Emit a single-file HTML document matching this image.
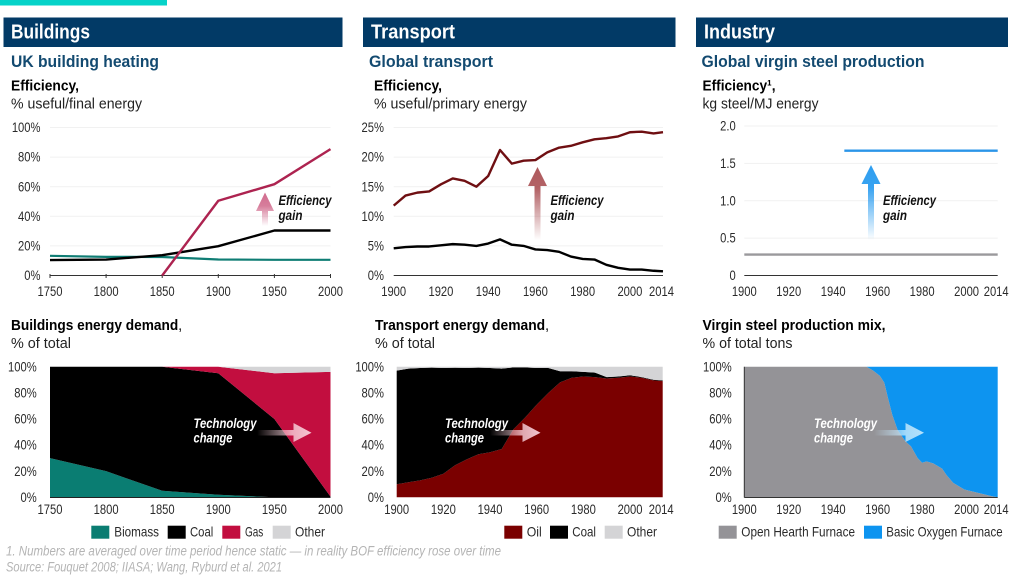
<!DOCTYPE html>
<html lang="en">
<head>
<meta charset="utf-8">
<title>Efficiency gains and technology change</title>
<style>
html,body{margin:0;padding:0;background:#fff;}
svg{display:block;font-family:"Liberation Sans",sans-serif;}
.hd{font-size:20px;font-weight:700;fill:#fff;}
.sub{font-size:17px;font-weight:700;fill:#134a70;}
.ttl{font-size:15px;font-weight:700;fill:#000;}
.unit{font-size:15px;fill:#222;}
.leg{font-size:14px;fill:#2a2a2a;}
.note{font-size:13.5px;font-style:italic;fill:#b4b4b4;}
.ann{font-size:13.5px;font-weight:700;font-style:italic;fill:#111;}
.annw{font-size:13.5px;font-weight:700;font-style:italic;fill:#fff;}
.tick{font-size:13.5px;fill:#2a2a2a;}
</style>
</head>
<body>
<svg id="page" width="1024" height="576" viewBox="0 0 1024 576" xmlns="http://www.w3.org/2000/svg">
<defs>
<linearGradient id="upPink" x1="0" y1="1" x2="0" y2="0"><stop offset="0" stop-color="#c9527a" stop-opacity="0"/><stop offset="0.6" stop-color="#c9527a" stop-opacity="0.75"/><stop offset="1" stop-color="#c9527a" stop-opacity="0.85"/></linearGradient>
<linearGradient id="upRed" x1="0" y1="1" x2="0" y2="0"><stop offset="0" stop-color="#a03c40" stop-opacity="0"/><stop offset="0.7" stop-color="#a03c40" stop-opacity="0.8"/><stop offset="1" stop-color="#a03c40" stop-opacity="0.85"/></linearGradient>
<linearGradient id="upBlue" x1="0" y1="1" x2="0" y2="0"><stop offset="0" stop-color="#2e9ef0" stop-opacity="0"/><stop offset="0.7" stop-color="#2e9ef0" stop-opacity="0.95"/><stop offset="1" stop-color="#2e9ef0"/></linearGradient>
<linearGradient id="rightPink" x1="0" y1="0" x2="1" y2="0"><stop offset="0" stop-color="#f8d0da" stop-opacity="0"/><stop offset="0.65" stop-color="#f8d0da" stop-opacity="0.8"/><stop offset="1" stop-color="#f8d0da" stop-opacity="0.95"/></linearGradient>
<linearGradient id="rightBlue" x1="0" y1="0" x2="1" y2="0"><stop offset="0" stop-color="#cdeafc" stop-opacity="0"/><stop offset="0.65" stop-color="#bfe6fc" stop-opacity="0.85"/><stop offset="1" stop-color="#bfe6fc" stop-opacity="0.95"/></linearGradient>
</defs>

<rect x="0" y="0" width="167" height="5.5" fill="#06d3c9"/>

<rect x="3.5" y="17.5" width="339" height="29.5" fill="#023a66"/>
<rect x="363" y="17.5" width="312.5" height="29.5" fill="#023a66"/>
<rect x="696" y="17.5" width="312" height="29.5" fill="#023a66"/>
<text class="hd" x="11" y="38.5" textLength="79" lengthAdjust="spacingAndGlyphs">Buildings</text>
<text class="hd" x="371" y="38.5" textLength="84" lengthAdjust="spacingAndGlyphs">Transport</text>
<text class="hd" x="704" y="38.5" textLength="71" lengthAdjust="spacingAndGlyphs">Industry</text>

<text class="sub" x="11" y="67" textLength="148" lengthAdjust="spacingAndGlyphs">UK building heating</text>
<text class="sub" x="369" y="67" textLength="124" lengthAdjust="spacingAndGlyphs">Global transport</text>
<text class="sub" x="701.5" y="67" textLength="223" lengthAdjust="spacingAndGlyphs">Global virgin steel production</text>

<text class="ttl" x="11" y="90.5" textLength="68" lengthAdjust="spacingAndGlyphs">Efficiency,</text>
<text class="unit" x="11" y="108.5" textLength="131" lengthAdjust="spacingAndGlyphs">% useful/final energy</text>
<text class="ttl" x="374" y="90.5" textLength="68" lengthAdjust="spacingAndGlyphs">Efficiency,</text>
<text class="unit" x="374" y="108.5" textLength="153" lengthAdjust="spacingAndGlyphs">% useful/primary energy</text>
<text class="ttl" x="702.5" y="90.5" textLength="73" lengthAdjust="spacingAndGlyphs">Efficiency¹,</text>
<text class="unit" x="702.5" y="108.5" textLength="116" lengthAdjust="spacingAndGlyphs">kg steel/MJ energy</text>

<text class="ttl" x="11" y="330" textLength="171" lengthAdjust="spacingAndGlyphs">Buildings energy demand<tspan font-weight="400">,</tspan></text>
<text class="unit" x="11" y="348" textLength="60" lengthAdjust="spacingAndGlyphs">% of total</text>
<text class="ttl" x="375" y="330" textLength="174" lengthAdjust="spacingAndGlyphs">Transport energy demand<tspan font-weight="400">,</tspan></text>
<text class="unit" x="375" y="348" textLength="60" lengthAdjust="spacingAndGlyphs">% of total</text>
<text class="ttl" x="702.5" y="330" textLength="183" lengthAdjust="spacingAndGlyphs">Virgin steel production mix,</text>
<text class="unit" x="702.5" y="348" textLength="90" lengthAdjust="spacingAndGlyphs">% of total tons</text>

<g id="plots"></g>

<g id="annotations">
<path d="M265 192.5 L274 211 L268 211 L268 226 L262 226 L262 211 L256 211 Z" fill="url(#upPink)"/>
<text class="ann" x="278.5" y="205" textLength="53" lengthAdjust="spacingAndGlyphs">Efficiency</text>
<text class="ann" x="278.5" y="220" textLength="24" lengthAdjust="spacingAndGlyphs">gain</text>

<path d="M537.5 167 L547 186 L540.5 186 L540.5 240 L534.5 240 L534.5 186 L528 186 Z" fill="url(#upRed)"/>
<text class="ann" x="550.5" y="205" textLength="53" lengthAdjust="spacingAndGlyphs">Efficiency</text>
<text class="ann" x="550.5" y="220" textLength="24" lengthAdjust="spacingAndGlyphs">gain</text>

<path d="M871 165 L880.5 184 L874 184 L874 240 L868 240 L868 184 L861.5 184 Z" fill="url(#upBlue)"/>
<text class="ann" x="883" y="205" textLength="53" lengthAdjust="spacingAndGlyphs">Efficiency</text>
<text class="ann" x="883" y="220" textLength="24" lengthAdjust="spacingAndGlyphs">gain</text>

<path d="M257 430 L293.5 430 L293.5 423 L311.5 432.7 L293.5 442 L293.5 435.5 L257 435.5 Z" fill="url(#rightPink)"/>
<text class="annw" x="193.5" y="428" textLength="63" lengthAdjust="spacingAndGlyphs">Technology</text>
<text class="annw" x="193.5" y="442.5" textLength="39" lengthAdjust="spacingAndGlyphs">change</text>

<path d="M490 430 L522.5 430 L522.5 423 L540.5 432.7 L522.5 442 L522.5 435.5 L490 435.5 Z" fill="url(#rightPink)"/>
<text class="annw" x="445" y="428" textLength="63" lengthAdjust="spacingAndGlyphs">Technology</text>
<text class="annw" x="445" y="442.5" textLength="39" lengthAdjust="spacingAndGlyphs">change</text>

<path d="M874 430 L905.5 430 L905.5 423 L924 432.7 L905.5 442 L905.5 435.5 L874 435.5 Z" fill="url(#rightBlue)"/>
<text class="annw" x="814" y="428" textLength="63" lengthAdjust="spacingAndGlyphs">Technology</text>
<text class="annw" x="814" y="442.5" textLength="39" lengthAdjust="spacingAndGlyphs">change</text>
</g>

<g>
<rect x="91.3" y="525.7" width="18" height="13" fill="#0a7d72"/>
<text class="leg" x="114.3" y="536.5" textLength="44.7" lengthAdjust="spacingAndGlyphs">Biomass</text>
<rect x="167.7" y="525.7" width="18" height="13" fill="#000"/>
<text class="leg" x="190" y="536.5" textLength="23.3" lengthAdjust="spacingAndGlyphs">Coal</text>
<rect x="222.3" y="525.7" width="18" height="13" fill="#c20e3f"/>
<text class="leg" x="245" y="536.5" textLength="18.3" lengthAdjust="spacingAndGlyphs">Gas</text>
<rect x="272.7" y="525.7" width="18" height="13" fill="#d4d4d6"/>
<text class="leg" x="295" y="536.5" textLength="30" lengthAdjust="spacingAndGlyphs">Other</text>
</g>
<g>
<rect x="504.3" y="525.7" width="18" height="13" fill="#7a0000"/>
<text class="leg" x="526.7" y="536.5" textLength="15" lengthAdjust="spacingAndGlyphs">Oil</text>
<rect x="550" y="525.7" width="18" height="13" fill="#000"/>
<text class="leg" x="572.3" y="536.5" textLength="23.7" lengthAdjust="spacingAndGlyphs">Coal</text>
<rect x="604.7" y="525.7" width="18" height="13" fill="#d4d4d6"/>
<text class="leg" x="627" y="536.5" textLength="30" lengthAdjust="spacingAndGlyphs">Other</text>
</g>
<g>
<rect x="718.7" y="525.7" width="18" height="13" fill="#949397"/>
<text class="leg" x="741.3" y="536.5" textLength="113.7" lengthAdjust="spacingAndGlyphs">Open Hearth Furnace</text>
<rect x="864" y="525.7" width="18" height="13" fill="#0d94f0"/>
<text class="leg" x="886.3" y="536.5" textLength="116.3" lengthAdjust="spacingAndGlyphs">Basic Oxygen Furnace</text>
</g>

<text class="note" x="6" y="555.5" textLength="495" lengthAdjust="spacingAndGlyphs">1. Numbers are averaged over time period hence static — in reality BOF efficiency rose over time</text>
<text class="note" x="6" y="571.5" textLength="276" lengthAdjust="spacingAndGlyphs">Source: Fouquet 2008; IIASA; Wang, Ryburd et al. 2021</text>
</svg>

<script>
// Buildings efficiency data
var buildingsYears = [1750, 1800, 1850, 1900, 1950, 2000];
var buildingsBiomassEff = [13.3, 12.6, 12.5, 10.8, 10.6, 10.6];
var buildingsCoalEff = [10.4, 10.8, 13.7, 19.8, 30.4, 30.4];
var buildingsGasYears = [1850, 1900, 1950, 2000];
var buildingsGasEff = [0, 50.5, 61.7, 85.4];
var buildingsXTicks = [1750, 1800, 1850, 1900, 1950, 2000];
var percentTicks = [0, 20, 40, 60, 80, 100];

// Transport efficiency data
var transportYears = [1900, 1905, 1910, 1915, 1920, 1925, 1930, 1935, 1940, 1945, 1950, 1955, 1960, 1965, 1970, 1975, 1980, 1985, 1990, 1995, 2000, 2005, 2010, 2014];
var transportOilEff = [11.8, 13.5, 14, 14.2, 15.4, 16.4, 16, 15, 16.8, 21.2, 18.9, 19.4, 19.5, 20.8, 21.6, 21.9, 22.5, 23, 23.2, 23.5, 24.2, 24.3, 24, 24.2];
var transportCoalEff = [4.6, 4.8, 4.9, 4.9, 5.1, 5.3, 5.2, 5, 5.4, 6.1, 5.2, 5, 4.4, 4.3, 4, 3.2, 2.8, 2.7, 1.8, 1.3, 1, 1, 0.8, 0.7];
var transportYTicks = [0, 5, 10, 15, 20, 25];
var modernXTicks = [1900, 1920, 1940, 1960, 1980, 2000, 2014];

// Industry efficiency data
var steelBofYears = [1945, 2014];
var steelBofEff = [1.67, 1.67];
var steelOhfYears = [1900, 2014];
var steelOhfEff = [0.28, 0.28];
var steelYTicks = [0, 0.5, 1, 1.5, 2];
var steelYLabels = ['0', '0.5', '1.0', '1.5', '2.0'];

// Buildings energy mix
var mixBuildingsBiomass = [30, 20, 5, 2, 0, 0];
var mixBuildingsCoal = [70, 80, 95, 93, 60, 0.5];
var mixBuildingsGas = [0, 0, 0, 5, 35, 95.5];
var mixBuildingsOther = [0, 0, 0, 0, 5, 4];

// Transport energy mix
var mixTransportOil = [10, 11.5, 13, 15, 18, 24.5, 29, 33, 34.5, 37, 52, 61, 71, 80, 88, 91.5, 92.5, 92, 91, 91.5, 92.5, 91.5, 89.5, 89];
var mixTransportCoal = [87, 87, 86, 84.3, 81, 74.7, 70, 66.3, 64.5, 61.5, 47.5, 38.5, 28, 19, 8.5, 5, 3.5, 3.5, 1, 1, 1, 0.5, 0.5, 0.5];
var mixTransportOther = [3, 1.5, 1, 0.7, 1, 0.8, 1, 0.7, 1, 1.5, 0.5, 0.5, 1, 1, 3.5, 3.5, 4, 4.5, 8, 7.5, 6.5, 8, 10, 10.5];

// Steel production mix
var mixSteelYears = [1900, 1955, 1958, 1961, 1963, 1964.5, 1966.6, 1969, 1972.6, 1975, 1978, 1980, 1982, 1985, 1989, 1991, 1994, 1999, 2005, 2011, 2014];
var mixSteelOhf = [100, 100, 97, 93, 87.7, 77, 63, 51.5, 42.6, 39, 30, 26.5, 27.5, 26, 22, 17, 11, 6, 3.5, 1, 0];
var mixSteelBof = [0, 0, 3, 7, 12.3, 23, 37, 48.5, 57.4, 61, 70, 73.5, 72.5, 74, 78, 83, 89, 94, 96.5, 99, 100];

var SVG_NS = 'http://www.w3.org/2000/svg';
var plots = document.getElementById('plots');

function linear(d0, d1, r0, r1) {
  return function (v) { return r0 + (v - d0) / (d1 - d0) * (r1 - r0); };
}

function shape(tag, name) {
  var el = document.createElementNS(SVG_NS, tag);
  
  
  plots.appendChild(el);
  return el;
}

function label(name, content, x, y, anchor) {
  var t = shape('text', name);
  t.setAttribute('class', 'tick');
  t.setAttribute('x', x);
  t.setAttribute('y', y);
  t.setAttribute('text-anchor', anchor);
  t.textContent = content;
  var w = t.getComputedTextLength();
  t.setAttribute('textLength', (w * 0.83).toFixed(2));
  t.setAttribute('lengthAdjust', 'spacingAndGlyphs');
  return t;
}

function rule(name, x1, y1, x2, y2, color, width) {
  var l = shape('line', name);
  l.setAttribute('x1', x1);
  l.setAttribute('y1', y1);
  l.setAttribute('x2', x2);
  l.setAttribute('y2', y2);
  l.setAttribute('stroke', color);
  l.setAttribute('stroke-width', width);
  return l;
}

function seriesLine(name, xs, ys, sx, sy, color, width) {
  var p = shape('polyline', name);
  var pts = xs.map(function (x, i) { return sx(x).toFixed(2) + ',' + sy(ys[i]).toFixed(2); });
  p.setAttribute('points', pts.join(' '));
  p.setAttribute('fill', 'none');
  p.setAttribute('stroke', color);
  p.setAttribute('stroke-width', width);
  p.setAttribute('stroke-linejoin', 'round');
  return p;
}

function stackedAreas(prefix, xs, layers, names, colors, sx, sy) {
  var base = xs.map(function () { return 0; });
  layers.forEach(function (vals, k) {
    var top = base.map(function (b, i) { return b + vals[i]; });
    var up = xs.map(function (x, i) { return sx(x).toFixed(2) + ',' + sy(top[i]).toFixed(2); });
    var down = xs.map(function (x, i) { return sx(x).toFixed(2) + ',' + sy(base[i]).toFixed(2); }).reverse();
    var p = shape('polygon', prefix + '-area-' + names[k]);
    p.setAttribute('points', up.concat(down).join(' '));
    p.setAttribute('fill', colors[k]);
    base = top;
  });
}

function yAxis(prefix, ticks, labels, sy, x0, x1, labelRight, grid) {
  ticks.forEach(function (v, i) {
    if (grid && v !== 0) {
      rule(prefix + '-gridline', x0, sy(v), x1, sy(v), '#f1f1f1', 1);
    }
    label(prefix + '-y-tick-label', labels[i], labelRight, sy(v) + 4.6, 'end');
  });
}

function xAxis(prefix, ticks, sx, baseline, tickTop, tickBottom) {
  ticks.forEach(function (v) {
    var shift = v === 2014 ? -1.5 : 0;
    label(prefix + '-x-tick-label', String(v), sx(v) + shift, baseline, 'middle');
    if (tickTop !== null) {
      rule(prefix + '-x-tick', sx(v), tickTop, sx(v), tickBottom, '#333', 1);
    }
  });
}

function pct(list) {
  return list.map(function (v) { return v + '%'; });
}

/* Buildings efficiency */
(function () {
  var sx = linear(1750, 2000, 50, 330.5);
  var sy = linear(0, 100, 275.5, 127.5);
  yAxis('buildings-efficiency', percentTicks, pct(percentTicks), sy, 50, 330.5, 40.5, true);
  rule('buildings-efficiency-x-axis', 50, 275.5, 330.5, 275.5, '#333', 1);
  xAxis('buildings-efficiency', buildingsXTicks, sx, 296, 274, 278);
  seriesLine('buildings-biomass-line', buildingsYears, buildingsBiomassEff, sx, sy, '#0f7d74', 2.2);
  seriesLine('buildings-coal-line', buildingsYears, buildingsCoalEff, sx, sy, '#000', 2.4);
  seriesLine('buildings-gas-line', buildingsGasYears, buildingsGasEff, sx, sy, '#ad2350', 2.4);
})();

/* Transport efficiency */
(function () {
  var sx = linear(1900, 2014, 393.7, 663);
  var sy = linear(0, 25, 275.5, 127.5);
  yAxis('transport-efficiency', transportYTicks, pct(transportYTicks), sy, 393.7, 663, 384, true);
  rule('transport-efficiency-x-axis', 393.7, 275.5, 663, 275.5, '#333', 1);
  xAxis('transport-efficiency', modernXTicks, sx, 296, null, null);
  seriesLine('transport-oil-line', transportYears, transportOilEff, sx, sy, '#6f0f12', 2.4);
  seriesLine('transport-coal-line', transportYears, transportCoalEff, sx, sy, '#000', 2.4);
})();

/* Industry efficiency */
(function () {
  var sx = linear(1900, 2014, 744.3, 997.7);
  var sy = linear(0, 2, 275.5, 126);
  yAxis('industry-efficiency', steelYTicks, steelYLabels, sy, 744.3, 997.7, 735.7, true);
  rule('industry-efficiency-x-axis', 744.3, 275.5, 997.7, 275.5, '#333', 1);
  xAxis('industry-efficiency', modernXTicks, sx, 296, null, null);
  seriesLine('steel-basic-oxygen-line', steelBofYears, steelBofEff, sx, sy, '#2b95e8', 2.4);
  seriesLine('steel-open-hearth-line', steelOhfYears, steelOhfEff, sx, sy, '#9a999c', 2.4);
})();

/* Buildings mix */
(function () {
  var sx = linear(1750, 2000, 50, 330.5);
  var sy = linear(0, 100, 497.3, 366.7);
  stackedAreas('buildings-mix', buildingsYears,
    [mixBuildingsBiomass, mixBuildingsCoal, mixBuildingsGas, mixBuildingsOther],
    ['biomass', 'coal', 'gas', 'other'],
    ['#0a7d72', '#000', '#c20e3f', '#d4d4d6'], sx, sy);
  yAxis('buildings-mix', percentTicks, pct(percentTicks), sy, 50, 330.5, 36.7, false);
  rule('buildings-mix-x-axis', 50, 497.5, 330.5, 497.5, '#222', 1);
  xAxis('buildings-mix', buildingsXTicks, sx, 514, null, null);
})();

/* Transport mix */
(function () {
  var sx = linear(1900, 2014, 396.7, 662.7);
  var sy = linear(0, 100, 497.3, 366.7);
  stackedAreas('transport-mix', transportYears,
    [mixTransportOil, mixTransportCoal, mixTransportOther],
    ['oil', 'coal', 'other'],
    ['#7a0000', '#000', '#d4d4d6'], sx, sy);
  yAxis('transport-mix', percentTicks, pct(percentTicks), sy, 396.7, 662.7, 384, false);
  xAxis('transport-mix', modernXTicks, sx, 514, null, null);
})();

/* Steel mix */
(function () {
  var sx = linear(1900, 2014, 744.3, 997.7);
  var sy = linear(0, 100, 497.3, 366.7);
  stackedAreas('steel-mix', mixSteelYears,
    [mixSteelOhf, mixSteelBof],
    ['open-hearth', 'basic-oxygen'],
    ['#949397', '#0d94f0'], sx, sy);
  yAxis('steel-mix', percentTicks, pct(percentTicks), sy, 744.3, 997.7, 731.7, false);
  rule('steel-mix-x-axis', 744.3, 497.5, 997.7, 497.5, '#333', 1);
  rule('steel-mix-y-axis', 744.3, 366.7, 744.3, 497.5, '#333', 1);
  xAxis('steel-mix', modernXTicks, sx, 514, null, null);
})();
</script>
</body>
</html>
